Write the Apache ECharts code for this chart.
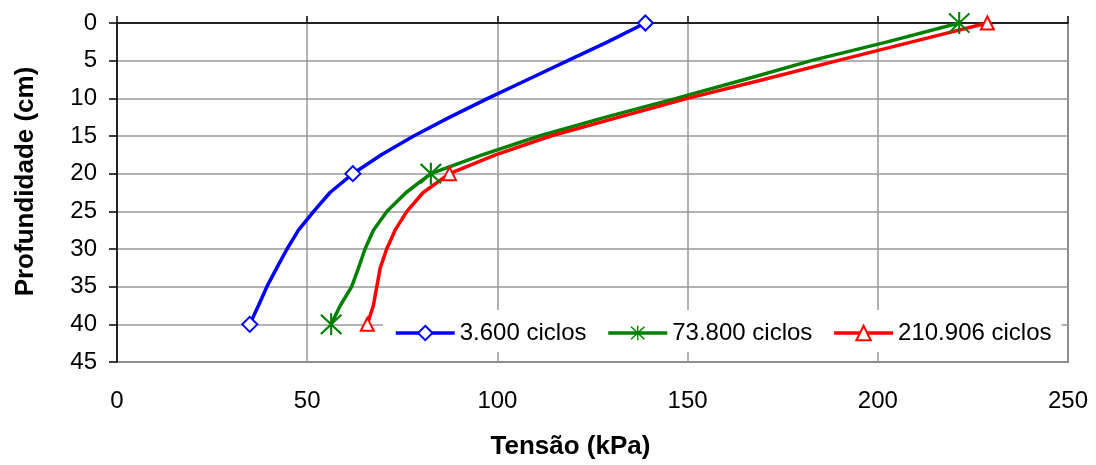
<!DOCTYPE html>
<html>
<head>
<meta charset="utf-8">
<script src="https://cdn.jsdelivr.net/npm/echarts@6/dist/echarts.min.js"></script>
<style>
  html, body { margin: 0; padding: 0; background: #fff; }
  #chart { width: 1096px; height: 465px; }
</style>
</head>
<body>
<div id="chart"></div>
<script>
// profundidade (cm) of each read point
const depths = [0, 2.5, 5, 7.5, 10, 12.5, 15, 17.5, 20, 22.5, 25, 27.5, 30, 32.5, 35, 37.5, 40];
// tensão (kPa) for each depth
const ciclos3600 = [138.9, 129, 118.5, 108, 97.5, 87.5, 78, 69.5, 62, 56, 51.7, 47.7, 44.7, 42, 39.4, 37.2, 34.9];
const ciclos73800 = [221.4, 202.5, 182.5, 165, 147, 128.5, 111, 96, 82.5, 76, 71, 67.4, 65.2, 63.5, 61.7, 58.7, 56.3];
const ciclos210906 = [228.8, 209, 189.4, 170, 150, 132, 114, 99.5, 87.4, 80.5, 76.2, 73.1, 70.9, 69.2, 68.3, 67.4, 65.8];
const seriesNames = ['3.600 ciclos', '73.800 ciclos', '210.906 ciclos'];
const markerDepths = [0, 20, 40];
const xTicks = { min: 0, max: 250, interval: 50 };
const yTicks = { min: 0, max: 45, interval: 5 };

// asterisk marker (vertical bar + X)
const starPath = 'path://M9.1 0 L10.9 0 L10.9 20 L9.1 20 Z M0.6 1.9 L1.9 0.6 L19.4 18.1 L18.1 19.4 Z M18.1 0.6 L19.4 1.9 L1.9 19.4 L0.6 18.1 Z';

function buildData(values) {
  return depths.map((d, i) => {
    const item = { value: [values[i], d] };
    if (markerDepths.indexOf(d) < 0) item.symbol = 'none';
    return item;
  });
}

const chart = echarts.init(document.getElementById('chart'));
const font = 'Liberation Sans, Arial, sans-serif';

chart.setOption({
  animation: false,
  textStyle: { fontFamily: font },
  grid: {
    left: 117, right: 28, top: 23, bottom: 101.5,
    show: true, borderColor: '#404040', borderWidth: 1.5
  },
  legend: {
    left: 383, top: 310,
    padding: [11, 10, 7, 11],
    backgroundColor: '#fff',
    itemWidth: 59, itemHeight: 18, itemGap: 20,
    lineStyle: { width: 3.5 },
    textStyle: { fontSize: 24, color: '#000', fontFamily: font },
    data: seriesNames
  },
  xAxis: [{
    type: 'value', position: 'bottom',
    min: xTicks.min, max: xTicks.max, interval: xTicks.interval,
    name: 'Tensão (kPa)', nameLocation: 'middle', nameGap: 72,
    nameTextStyle: { fontSize: 26, fontWeight: 'bold', color: '#000', fontFamily: font, padding: [0, 44, 0, 0] },
    axisLine: { show: false, onZero: false },
    axisTick: { show: false },
    axisLabel: { fontSize: 24, color: '#000', margin: 27, fontFamily: font },
    splitLine: { lineStyle: { color: '#999', width: 1.5 } }
  }, {
    type: 'value', position: 'top',
    min: xTicks.min, max: xTicks.max, interval: xTicks.interval,
    axisLine: { show: true, onZero: false, lineStyle: { color: '#000', width: 1.5 } },
    axisTick: { show: true, length: 7, lineStyle: { color: '#000', width: 1.5 } },
    axisLabel: { show: false },
    splitLine: { show: false }
  }],
  yAxis: {
    type: 'value', inverse: true,
    min: yTicks.min, max: yTicks.max, interval: yTicks.interval,
    name: 'Profundidade (cm)', nameLocation: 'middle', nameGap: 78, nameRotate: 90,
    nameTextStyle: { fontSize: 26, fontWeight: 'bold', color: '#000', fontFamily: font, padding: [0, 0, 0, 22] },
    axisLine: { show: true, onZero: false, lineStyle: { color: '#000', width: 1.5 } },
    axisTick: { show: true, length: 8, lineStyle: { color: '#000', width: 1.5 } },
    axisLabel: { fontSize: 24, color: '#000', margin: 20, fontFamily: font },
    splitLine: { lineStyle: { color: '#999', width: 1.5 } }
  },
  series: [{
    name: seriesNames[0], type: 'line', xAxisIndex: 0,
    symbol: 'emptyDiamond', symbolSize: 15,
    lineStyle: { color: '#0000ff', width: 3.5 },
    itemStyle: { color: '#0000ff', borderWidth: 1.6 },
    data: buildData(ciclos3600)
  }, {
    name: seriesNames[1], type: 'line', xAxisIndex: 0,
    symbol: starPath, symbolSize: 22,
    lineStyle: { color: '#008000', width: 3.5 },
    itemStyle: { color: '#008000' },
    data: buildData(ciclos73800)
  }, {
    name: seriesNames[2], type: 'line', xAxisIndex: 0,
    symbol: 'emptyTriangle', symbolSize: 13,
    lineStyle: { color: '#ff0000', width: 3.5 },
    itemStyle: { color: '#ff0000', borderWidth: 1.6 },
    data: buildData(ciclos210906)
  }]
});
</script>
</body>
</html>
